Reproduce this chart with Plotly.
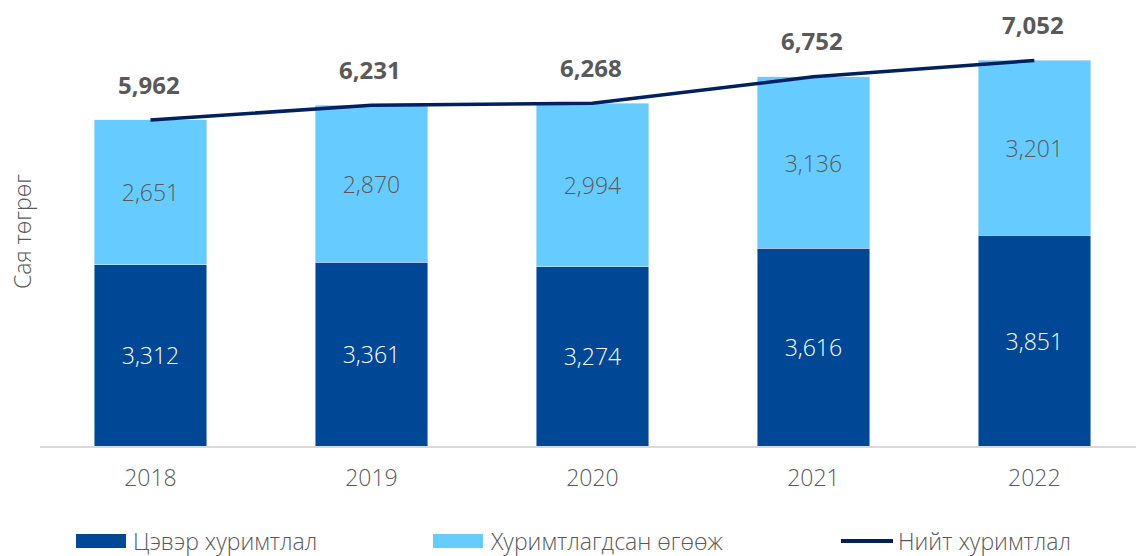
import plotly.graph_objects as go

years = ["2018", "2019", "2020", "2021", "2022"]
net = [3312, 3361, 3274, 3616, 3851]
dep = [2651, 2870, 2994, 3136, 3201]
total = [5962, 6231, 6268, 6752, 7052]
names = ["Цэвэр хуримтлал", "Хуримтлагдсан өгөөж", "Нийт хуримтлал"]

C_DARK = "#004796"
C_LIGHT = "#66CCFF"
C_LINE = "#002060"
GRAY = "#595959"
FONT = "Open Sans"

W, H = 1136, 556
L, R, T, B = 40, 0, 0, 110
PW, PH = W - L - R, H - T - B

def px(x):
    return (x - L) / PW

def py(y):
    return (H - B - y) / PH

fig = go.Figure()
fig.add_bar(x=years, y=net, name=names[0], marker_color=C_DARK,
            text=[f"{v:,}" for v in net], textposition="inside",
            insidetextanchor="middle",
            textfont=dict(color="white", size=23, family=FONT, weight=300),
            showlegend=False)
fig.add_bar(x=years, y=dep, name=names[1], marker_color=C_LIGHT,
            text=[f"{v:,}" for v in dep], textposition="inside",
            insidetextanchor="middle",
            textfont=dict(color=GRAY, size=23, family=FONT, weight=300),
            showlegend=False)
fig.add_scatter(x=years, y=total, name=names[2], mode="lines",
                line=dict(color=C_LINE, width=3.5), showlegend=False,
                hoverinfo="skip")

for i, v in enumerate(total):
    fig.add_annotation(x=i, y=v, text=f"<b>{v:,}</b>", showarrow=False,
                       yshift=36, xshift=-1,
                       font=dict(size=24, color=GRAY, family=FONT))

# y-axis title
fig.add_annotation(x=px(22), y=py(232), xref="paper", yref="paper",
                   xanchor="center", yanchor="middle",
                   text="Сая төгрөг", textangle=-90, showarrow=False,
                   font=dict(size=23, color=GRAY, family=FONT, weight=300))

# manual legend
leg = [(76, "rect", C_DARK), (433, "rect", C_LIGHT), (841, "line", C_LINE)]
ly = 541
for (x0, kind, col), nm in zip(leg, names):
    if kind == "rect":
        fig.add_shape(type="rect", xref="paper", yref="paper",
                      x0=px(x0), x1=px(x0 + 50), y0=py(ly + 7), y1=py(ly - 7),
                      fillcolor=col, line_width=0)
    else:
        fig.add_shape(type="line", xref="paper", yref="paper",
                      x0=px(x0), x1=px(x0 + 52), y0=py(ly), y1=py(ly),
                      line=dict(color=col, width=4))
    fig.add_annotation(x=px(x0 + 55), y=py(ly), xref="paper", yref="paper",
                       text=nm, showarrow=False,
                       xanchor="left", yanchor="middle",
                       font=dict(size=23, color=GRAY, family=FONT, weight=300))

fig.update_layout(
    width=W, height=H, barmode="stack", bargap=0.49,
    margin=dict(l=L, r=R, t=T, b=B),
    paper_bgcolor="white", plot_bgcolor="white",
    font=dict(family=FONT, color=GRAY),
    xaxis=dict(type="category", range=[-0.5, 4.46], showline=True,
               linecolor="#d9d9d9", linewidth=1.5, ticks="",
               ticklabelstandoff=11, automargin=False,
               tickfont=dict(size=23, color=GRAY, family=FONT, weight=300)),
    yaxis=dict(range=[0, 8157], showgrid=False, showticklabels=False,
               zeroline=False, showline=False, automargin=False),
)

fig.write_html("out.html", config={"displayModeBar": False},
               post_script="document.body.style.margin='0';")
